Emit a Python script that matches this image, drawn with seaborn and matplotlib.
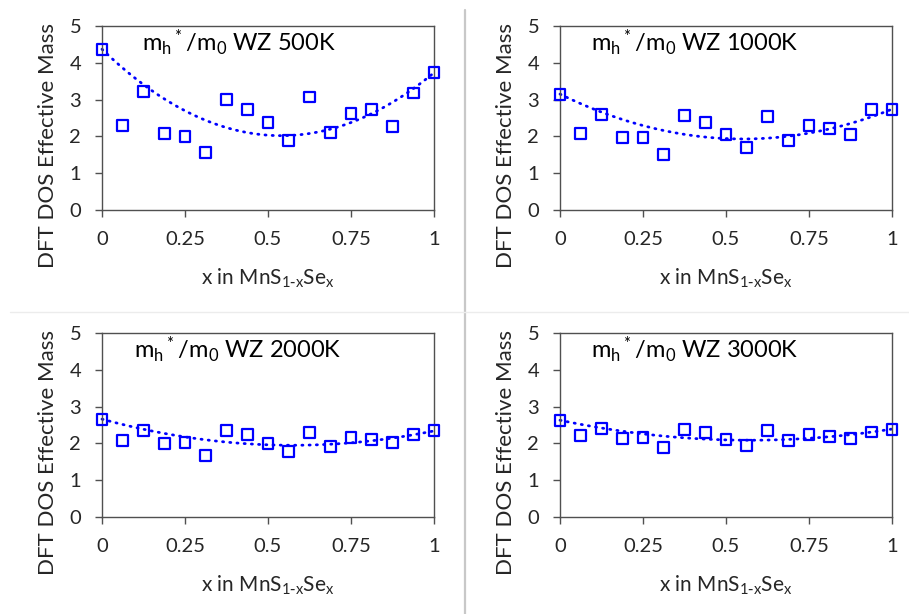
import matplotlib
matplotlib.use("Agg")
import matplotlib.pyplot as plt
import numpy as np
import seaborn as sns
from matplotlib.lines import Line2D

# ───────────────────────────────────────────────────────────────
# Data
# ───────────────────────────────────────────────────────────────
x_se = [0, 0.0625, 0.125, 0.1875, 0.25, 0.3125, 0.375, 0.4375, 0.5,
        0.5625, 0.625, 0.6875, 0.75, 0.8125, 0.875, 0.9375, 1]

mass_500k = [4.37, 2.29, 3.22, 2.08, 1.99, 1.56, 2.99, 2.72, 2.38,
             1.89, 3.07, 2.10, 2.63, 2.72, 2.27, 3.18, 3.73]
mass_1000k = [3.15, 2.08, 2.60, 1.97, 1.97, 1.50, 2.58, 2.39, 2.06,
              1.70, 2.55, 1.89, 2.30, 2.22, 2.04, 2.74, 2.74]
mass_2000k = [2.66, 2.07, 2.35, 2.01, 2.03, 1.66, 2.35, 2.25, 2.00,
              1.78, 2.29, 1.92, 2.16, 2.10, 2.03, 2.25, 2.34]
mass_3000k = [2.63, 2.22, 2.41, 2.14, 2.16, 1.88, 2.39, 2.30, 2.10,
              1.95, 2.35, 2.08, 2.25, 2.19, 2.14, 2.31, 2.39]

temps = ["500K", "1000K", "2000K", "3000K"]
series = [mass_500k, mass_1000k, mass_2000k, mass_3000k]
x_ticks = [0, 0.25, 0.5, 0.75, 1]
x_tick_labels = ["0", "0.25", "0.5", "0.75", "1"]
y_ticks = [0, 1, 2, 3, 4, 5]


def bowing_fit(x, y):
    """Vegard line between the end members minus a fitted bowing term."""
    x = np.asarray(x)
    y = np.asarray(y)
    a, b = y[0], y[-1]
    g = x * (1 - x)
    resid = y - ((1 - x) * a + x * b)
    bow = -np.sum(resid * g) / np.sum(g * g)
    xf = np.linspace(0, 1, 101)
    return xf, (1 - xf) * a + xf * b - bow * xf * (1 - xf)


# ───────────────────────────────────────────────────────────────
# Style
# ───────────────────────────────────────────────────────────────
sns.set_style("ticks")
plt.rcParams["font.family"] = ["Lato", "DejaVu Sans"]
plt.rcParams["mathtext.default"] = "regular"

BLUE = "#0000FF"
AXIS_COLOR = "#505050"
TEXT_COLOR = "#262626"

W, H = 909, 614
fig = plt.figure(figsize=(W / 100, H / 100), dpi=100)
fig.patch.set_facecolor("white")

# axes boxes in pixels: (left, top, right, bottom)
boxes = [(102, 26, 434, 210), (560, 26, 892, 210),
         (102, 333, 434, 517), (560, 333, 892, 517)]
title_x = [0.12, 0.093, 0.097, 0.093]

for i, (temp, vals) in enumerate(zip(temps, series)):
    l, t, r, b = boxes[i]
    ax = fig.add_axes([l / W, 1 - b / H, (r - l) / W, (b - t) / H])

    xf, yf = bowing_fit(x_se, vals)
    sns.lineplot(x=xf, y=yf, ax=ax, color=BLUE, lw=2.0,
                 ls=(0, (0.4, 2.2)), dash_capstyle="round", clip_on=False)
    sns.scatterplot(
        x=x_se, y=vals, ax=ax, marker="s", s=62, facecolors="none",
        edgecolor=BLUE, linewidth=1.6, zorder=3, clip_on=False,
    )

    ax.set_xlim(0, 1)
    ax.set_ylim(0, 5)
    ax.set_xticks(x_ticks)
    ax.set_xticklabels(x_tick_labels)
    ax.set_yticks(y_ticks)
    for s in ax.spines.values():
        s.set_visible(True)
        s.set_color(AXIS_COLOR)
        s.set_linewidth(1.0)
    ax.tick_params(colors=AXIS_COLOR, labelcolor=TEXT_COLOR, labelsize=14.5,
                   length=5, width=1.0, direction="out")
    ax.tick_params(axis="x", pad=10)
    ax.tick_params(axis="y", pad=10)

    ax.set_xlabel(r"x in MnS$_{1\text{-}x}$Se$_x$", fontsize=15, color=TEXT_COLOR)
    ax.xaxis.set_label_coords(0.5, -0.31)
    ax.set_ylabel("DFT DOS Effective Mass", fontsize=16, color=TEXT_COLOR)
    ax.yaxis.set_label_coords(-0.133, 0.353)
    ax.text(title_x[i], 0.86, r"m$_h$$^*$/m$_0$ WZ " + temp,
            transform=ax.transAxes, fontsize=17, color="black",
            ha="left", va="baseline")

# panel separators
fig.add_artist(Line2D([465 / W, 465 / W], [0, 1 - 10 / H],
                      transform=fig.transFigure, color="#c8c8c8", lw=1.6))
fig.add_artist(Line2D([10 / W, 1], [1 - 312 / H, 1 - 312 / H],
                      transform=fig.transFigure, color="#ececec", lw=1.0))

fig.savefig("out.png", dpi=100, facecolor="white")
